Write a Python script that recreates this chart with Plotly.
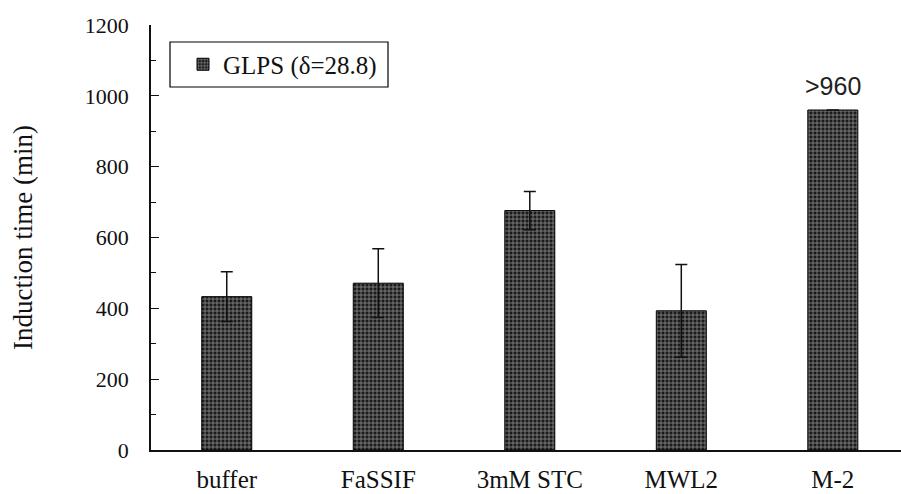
import plotly.graph_objects as go

# Induction time per medium, GLPS formulation
categories = ["buffer", "FaSSIF", "3mM STC", "MWL2", "M-2"]
induction_time = [433, 471, 676, 393, 960]
induction_sd = [70, 97, 54, 131, None]   # no spread reported for M-2 (>960)
bar_labels = ["", "", "", "", ">960"]
series_name = "GLPS (\u03b4=28.8)"
y_ticks = [0, 200, 400, 600, 800, 1000, 1200]

serif = "Liberation Serif, Times New Roman, serif"

# plot area in pixels: x 151..901, y 25..450
def px(xp):
    return (xp - 151) / 750


def py(yp):
    return (450 - yp) / 425


fig = go.Figure()
fig.add_trace(go.Bar(
    x=categories,
    y=induction_time,
    name=series_name,
    width=0.33,
    marker=dict(
        color="#1a1a1a",
        line=dict(color="#000", width=1),
        pattern=dict(shape="+", fgcolor="#ffffff", bgcolor="#1a1a1a",
                     size=4, solidity=0.36, fillmode="overlay"),
    ),
    error_y=dict(type="data", array=induction_sd, visible=True,
                 color="#111", thickness=1.5, width=6),
))

# value labels above bars
for cat, val, lab in zip(categories, induction_time, bar_labels):
    if lab:
        fig.add_annotation(x=cat, y=val, text=lab, showarrow=False,
                           yanchor="bottom", yshift=8,
                           font=dict(family="Liberation Sans, Arial, sans-serif",
                                     size=25, color="#222"))

# legend frame
fig.add_shape(type="rect", xref="paper", yref="paper",
              x0=px(170), x1=px(388), y0=py(87), y1=py(42),
              line=dict(color="#000", width=1.2), fillcolor="rgba(0,0,0,0)")

fig.update_layout(
    width=901, height=494,
    margin=dict(l=151, r=0, t=25, b=44),
    plot_bgcolor="white", paper_bgcolor="white",
    font=dict(family=serif, size=18, color="#111"),
    showlegend=True,
    legend=dict(x=px(183), y=py(64.5), xanchor="left", yanchor="middle",
                bgcolor="rgba(0,0,0,0)", borderwidth=0,
                font=dict(family=serif, size=25, color="#111"),
                itemwidth=30),
    bargap=0.5,
)
fig.update_xaxes(
    range=[-0.5, 4.45], automargin=False,
    showline=True, linecolor="#111", linewidth=1.5,
    ticks="", tickfont=dict(family=serif, size=25),
    ticklabelstandoff=6,
)
fig.update_yaxes(
    range=[0, 1200], automargin=False,
    tickvals=y_ticks,
    showgrid=False, zeroline=False,
    showline=True, linecolor="#111", linewidth=1.5,
    ticks="inside", ticklen=8, tickcolor="#111", tickwidth=1.2,
    minor=dict(dtick=100, ticks="inside", ticklen=5, tickcolor="#111", tickwidth=1.2),
    tickfont=dict(family=serif, size=22),
    ticklabelstandoff=16,
    title=dict(text="Induction time (min)", font=dict(family=serif, size=27), standoff=44),
)

fig.write_html("out.html")
